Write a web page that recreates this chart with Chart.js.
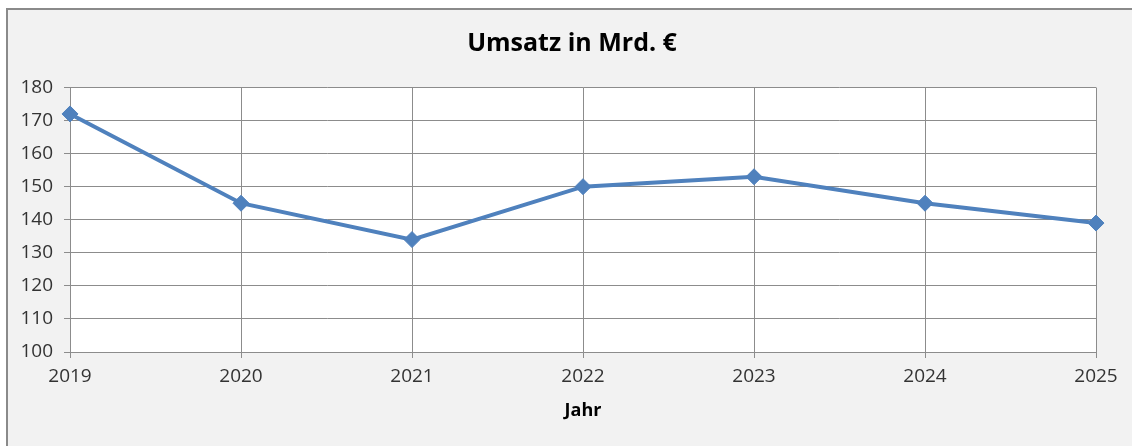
<!DOCTYPE html>
<html>
<head>
<meta charset="utf-8">
<script src="https://cdn.jsdelivr.net/npm/chart.js@4"></script>
<style>
    body { margin: 0; background: #fff; overflow: hidden; }
    #wrap {
        position: absolute; left: 6px; top: 8px;
        width: 1124px; height: 436px;
        background: #f2f2f2;
        border-top: 2px solid #8a8a8a;
        border-left: 2px solid #8a8a8a;
    }
</style>
</head>
<body>
<div id="wrap"><canvas id="umsatzChart" width="1124" height="436"></canvas></div>
<script>
const years = ['2019', '2020', '2021', '2022', '2023', '2024', '2025'];
const umsatz = [172, 145, 134, 150, 153, 145, 139];
const yMin = 100;
const yMax = 180;
const yStep = 10;

const gridColor = '#8c8c8c';
const fontFamily = "'Open Sans', sans-serif";

// white plot area
const plotBackground = {
    id: 'plotBackground',
    beforeDraw(chart) {
        const { ctx, chartArea } = chart;
        ctx.save();
        ctx.fillStyle = '#ffffff';
        ctx.fillRect(chartArea.left, chartArea.top, chartArea.right - chartArea.left, chartArea.bottom - chartArea.top);
        ctx.restore();
    }
};

const ctx = document.getElementById('umsatzChart').getContext('2d');
new Chart(ctx, {
    type: 'line',
    data: {
        labels: years,
        datasets: [{
            label: 'Umsatz',
            data: umsatz,
            borderColor: '#4f81bd',
            backgroundColor: '#4f81bd',
            borderWidth: 4,
            pointStyle: 'rectRot',
            pointRadius: 8,
            pointBorderWidth: 1,
            tension: 0,
            fill: false
        }]
    },
    options: {
        responsive: false,
        animation: false,
        layout: { padding: { left: 4, right: 0, top: 0, bottom: 0 } },
        plugins: {
            legend: { display: false },
            tooltip: { enabled: false },
            title: {
                display: true,
                text: 'Umsatz in Mrd. €',
                color: '#000',
                font: { family: fontFamily, size: 25, weight: 'bold', lineHeight: 1.2 },
                padding: { top: 19, bottom: 28.5 }
            }
        },
        scales: {
            x: {
                offset: false,
                grid: { color: gridColor, tickLength: 6, drawTicks: true },
                border: { color: gridColor },
                ticks: { color: '#333', padding: 7, maxRotation: 0, font: { family: fontFamily, size: 19 } },
                title: {
                    display: true,
                    text: 'Jahr',
                    color: '#000',
                    font: { family: fontFamily, size: 18, weight: 'bold', lineHeight: 1.2 },
                    padding: { top: 4, bottom: 24 }
                },
                afterFit(scale) {
                    scale.height = 94;
                    scale.paddingRight = 36;
                }
            },
            y: {
                min: yMin,
                max: yMax,
                grid: { color: gridColor, tickLength: 6 },
                border: { color: gridColor },
                ticks: { stepSize: yStep, color: '#333', padding: 11, font: { family: fontFamily, size: 19 } },
                afterFit(scale) { scale.width = 58; }
            }
        }
    },
    plugins: [plotBackground]
});
</script>
</body>
</html>
